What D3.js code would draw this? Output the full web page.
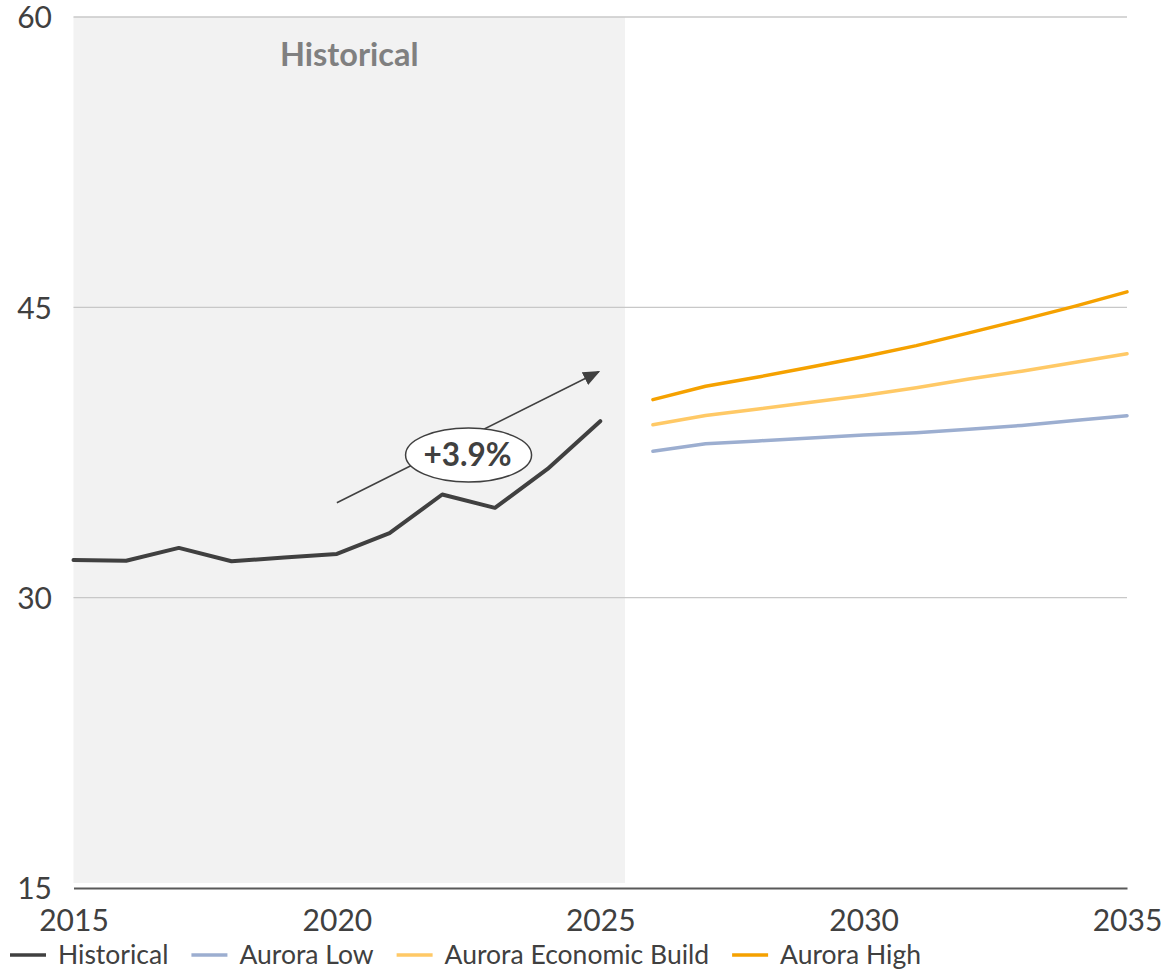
<!DOCTYPE html>
<html>
<head>
<meta charset="utf-8">
<script src="https://cdn.jsdelivr.net/npm/d3@7"></script>
<style>
  html, body { margin: 0; padding: 0; background: #fff; }
  svg { display: block; font-family: Lato, "Open Sans", sans-serif; }
</style>
</head>
<body>
<svg id="chart" width="1168" height="969"></svg>
<script>
// Historical series
const histYears = [2015, 2016, 2017, 2018, 2019, 2020, 2021, 2022, 2023, 2024, 2025];
const histValues = [31.95, 31.91, 32.57, 31.88, 32.07, 32.26, 33.33, 35.33, 34.64, 36.65, 39.12];

// Scenario projections
const projYears = [2026, 2027, 2028, 2029, 2030, 2031, 2032, 2033, 2034, 2035];
const lowValues = [37.57, 37.95, 38.1, 38.25, 38.4, 38.52, 38.7, 38.9, 39.15, 39.4];
const econValues = [38.93, 39.41, 39.75, 40.1, 40.45, 40.85, 41.3, 41.7, 42.15, 42.6];
const highValues = [40.23, 40.92, 41.4, 41.92, 42.45, 43.02, 43.68, 44.35, 45.05, 45.8];

const yTicks = [15, 30, 45, 60];
const xTicks = [2015, 2020, 2025, 2030, 2035];
const histEnd = 2025.47;
const growthLabel = "+3.9%";

const seriesNames = ["Historical", "Aurora Low", "Aurora Economic Build", "Aurora High"];
const seriesColors = ["#404040", "#9caed0", "#ffc966", "#f5a100"];

const svg = d3.select("#chart");
const x = d3.scaleLinear().domain([2015, 2035]).range([73.5, 1127]);
const y = d3.scaleLinear().domain([15, 60]).range([888, 17]);

// Shaded historical band
svg.append("rect")
  .attr("x", x(2015)).attr("y", y(60))
  .attr("width", x(histEnd) - x(2015))
  .attr("height", y(15) - y(60) - 5)
  .attr("fill", "#f2f2f2");

svg.append("text")
  .attr("x", x(2015) + (x(histEnd) - x(2015)) / 2)
  .attr("y", 66)
  .attr("text-anchor", "middle")
  .attr("font-size", 32.5).attr("font-weight", 700)
  .attr("fill", "#808080")
  .text("Historical");

// Gridlines
svg.append("g").selectAll("line")
  .data(yTicks.filter(d => d !== 15))
  .join("line")
  .attr("x1", x(2015)).attr("x2", x(2035))
  .attr("y1", d => y(d)).attr("y2", d => y(d))
  .attr("stroke", "#c8c8c8").attr("stroke-width", 1.3);

// Y axis labels
const yAxis = svg.append("g").attr("transform", `translate(52,0)`)
  .call(d3.axisLeft(y).tickValues(yTicks).tickSize(0).tickPadding(0));
yAxis.select(".domain").remove();
yAxis.selectAll("text")
  .attr("font-family", "Lato, sans-serif")
  .attr("font-size", 30).attr("fill", "#404040")
  .attr("dy", "0.36em");

// X axis
const xAxis = svg.append("g").attr("transform", `translate(0,${y(15)})`)
  .call(d3.axisBottom(x).tickValues(xTicks).tickFormat(d3.format("d")).tickSize(0).tickPadding(0));
xAxis.select(".domain").attr("stroke", "#595959").attr("stroke-width", 2.2);
xAxis.selectAll("text")
  .attr("font-family", "Lato, sans-serif")
  .attr("font-size", 30).attr("fill", "#404040")
  .attr("y", 43).attr("dy", 0);

// Lines
const line = d3.line().x(d => x(d[0])).y(d => y(d[1]));
const series = [
  { data: d3.zip(histYears, histValues), color: seriesColors[0], width: 4 },
  { data: d3.zip(projYears, lowValues), color: seriesColors[1], width: 3.5 },
  { data: d3.zip(projYears, econValues), color: seriesColors[2], width: 3.5 },
  { data: d3.zip(projYears, highValues), color: seriesColors[3], width: 3.5 }
];
svg.append("g").selectAll("path")
  .data(series)
  .join("path")
  .attr("d", d => line(d.data))
  .attr("fill", "none")
  .attr("stroke", d => d.color)
  .attr("stroke-width", d => d.width)
  .attr("stroke-linejoin", "round")
  .attr("stroke-linecap", "round");

// Growth arrow annotation
svg.append("defs").append("marker")
  .attr("id", "arrowhead")
  .attr("viewBox", "0 0 10 10")
  .attr("refX", 9).attr("refY", 5)
  .attr("markerWidth", 17).attr("markerHeight", 14)
  .attr("markerUnits", "userSpaceOnUse")
  .attr("orient", "auto")
  .attr("preserveAspectRatio", "none")
  .append("path").attr("d", "M0,0 L10,5 L0,10 Z").attr("fill", "#404040");

const arrowStart = [2020, 34.9];
const arrowEnd = [2024.97, 41.67];
svg.append("line")
  .attr("x1", x(arrowStart[0])).attr("y1", y(arrowStart[1]))
  .attr("x2", x(arrowEnd[0])).attr("y2", y(arrowEnd[1]))
  .attr("stroke", "#404040").attr("stroke-width", 1.6)
  .attr("marker-end", "url(#arrowhead)");

const labelPos = [2022.5, 37.37];
svg.append("ellipse")
  .attr("cx", x(labelPos[0])).attr("cy", y(labelPos[1]))
  .attr("rx", 63).attr("ry", 27)
  .attr("fill", "#fff").attr("stroke", "#404040").attr("stroke-width", 1.5);
svg.append("text")
  .attr("x", x(labelPos[0]) - 1).attr("y", y(labelPos[1]))
  .attr("dy", "0.36em")
  .attr("text-anchor", "middle")
  .attr("font-size", 31.5).attr("font-weight", 700)
  .attr("fill", "#404040")
  .text(growthLabel);

// Legend
const legend = svg.append("g").attr("transform", "translate(10,955)");
let cursor = 0;
seriesNames.forEach((name, i) => {
  const g = legend.append("g").attr("transform", `translate(${cursor},0)`);
  g.append("line").attr("x1", 0).attr("x2", 36).attr("y1", 0).attr("y2", 0)
    .attr("stroke", seriesColors[i]).attr("stroke-width", 3.5);
  const t = g.append("text").attr("x", 48).attr("y", 0).attr("dy", "0.35em")
    .attr("font-size", 26.5).attr("fill", "#404040").text(name);
  cursor += 48 + t.node().getComputedTextLength() + 23;
});
</script>
</body>
</html>
